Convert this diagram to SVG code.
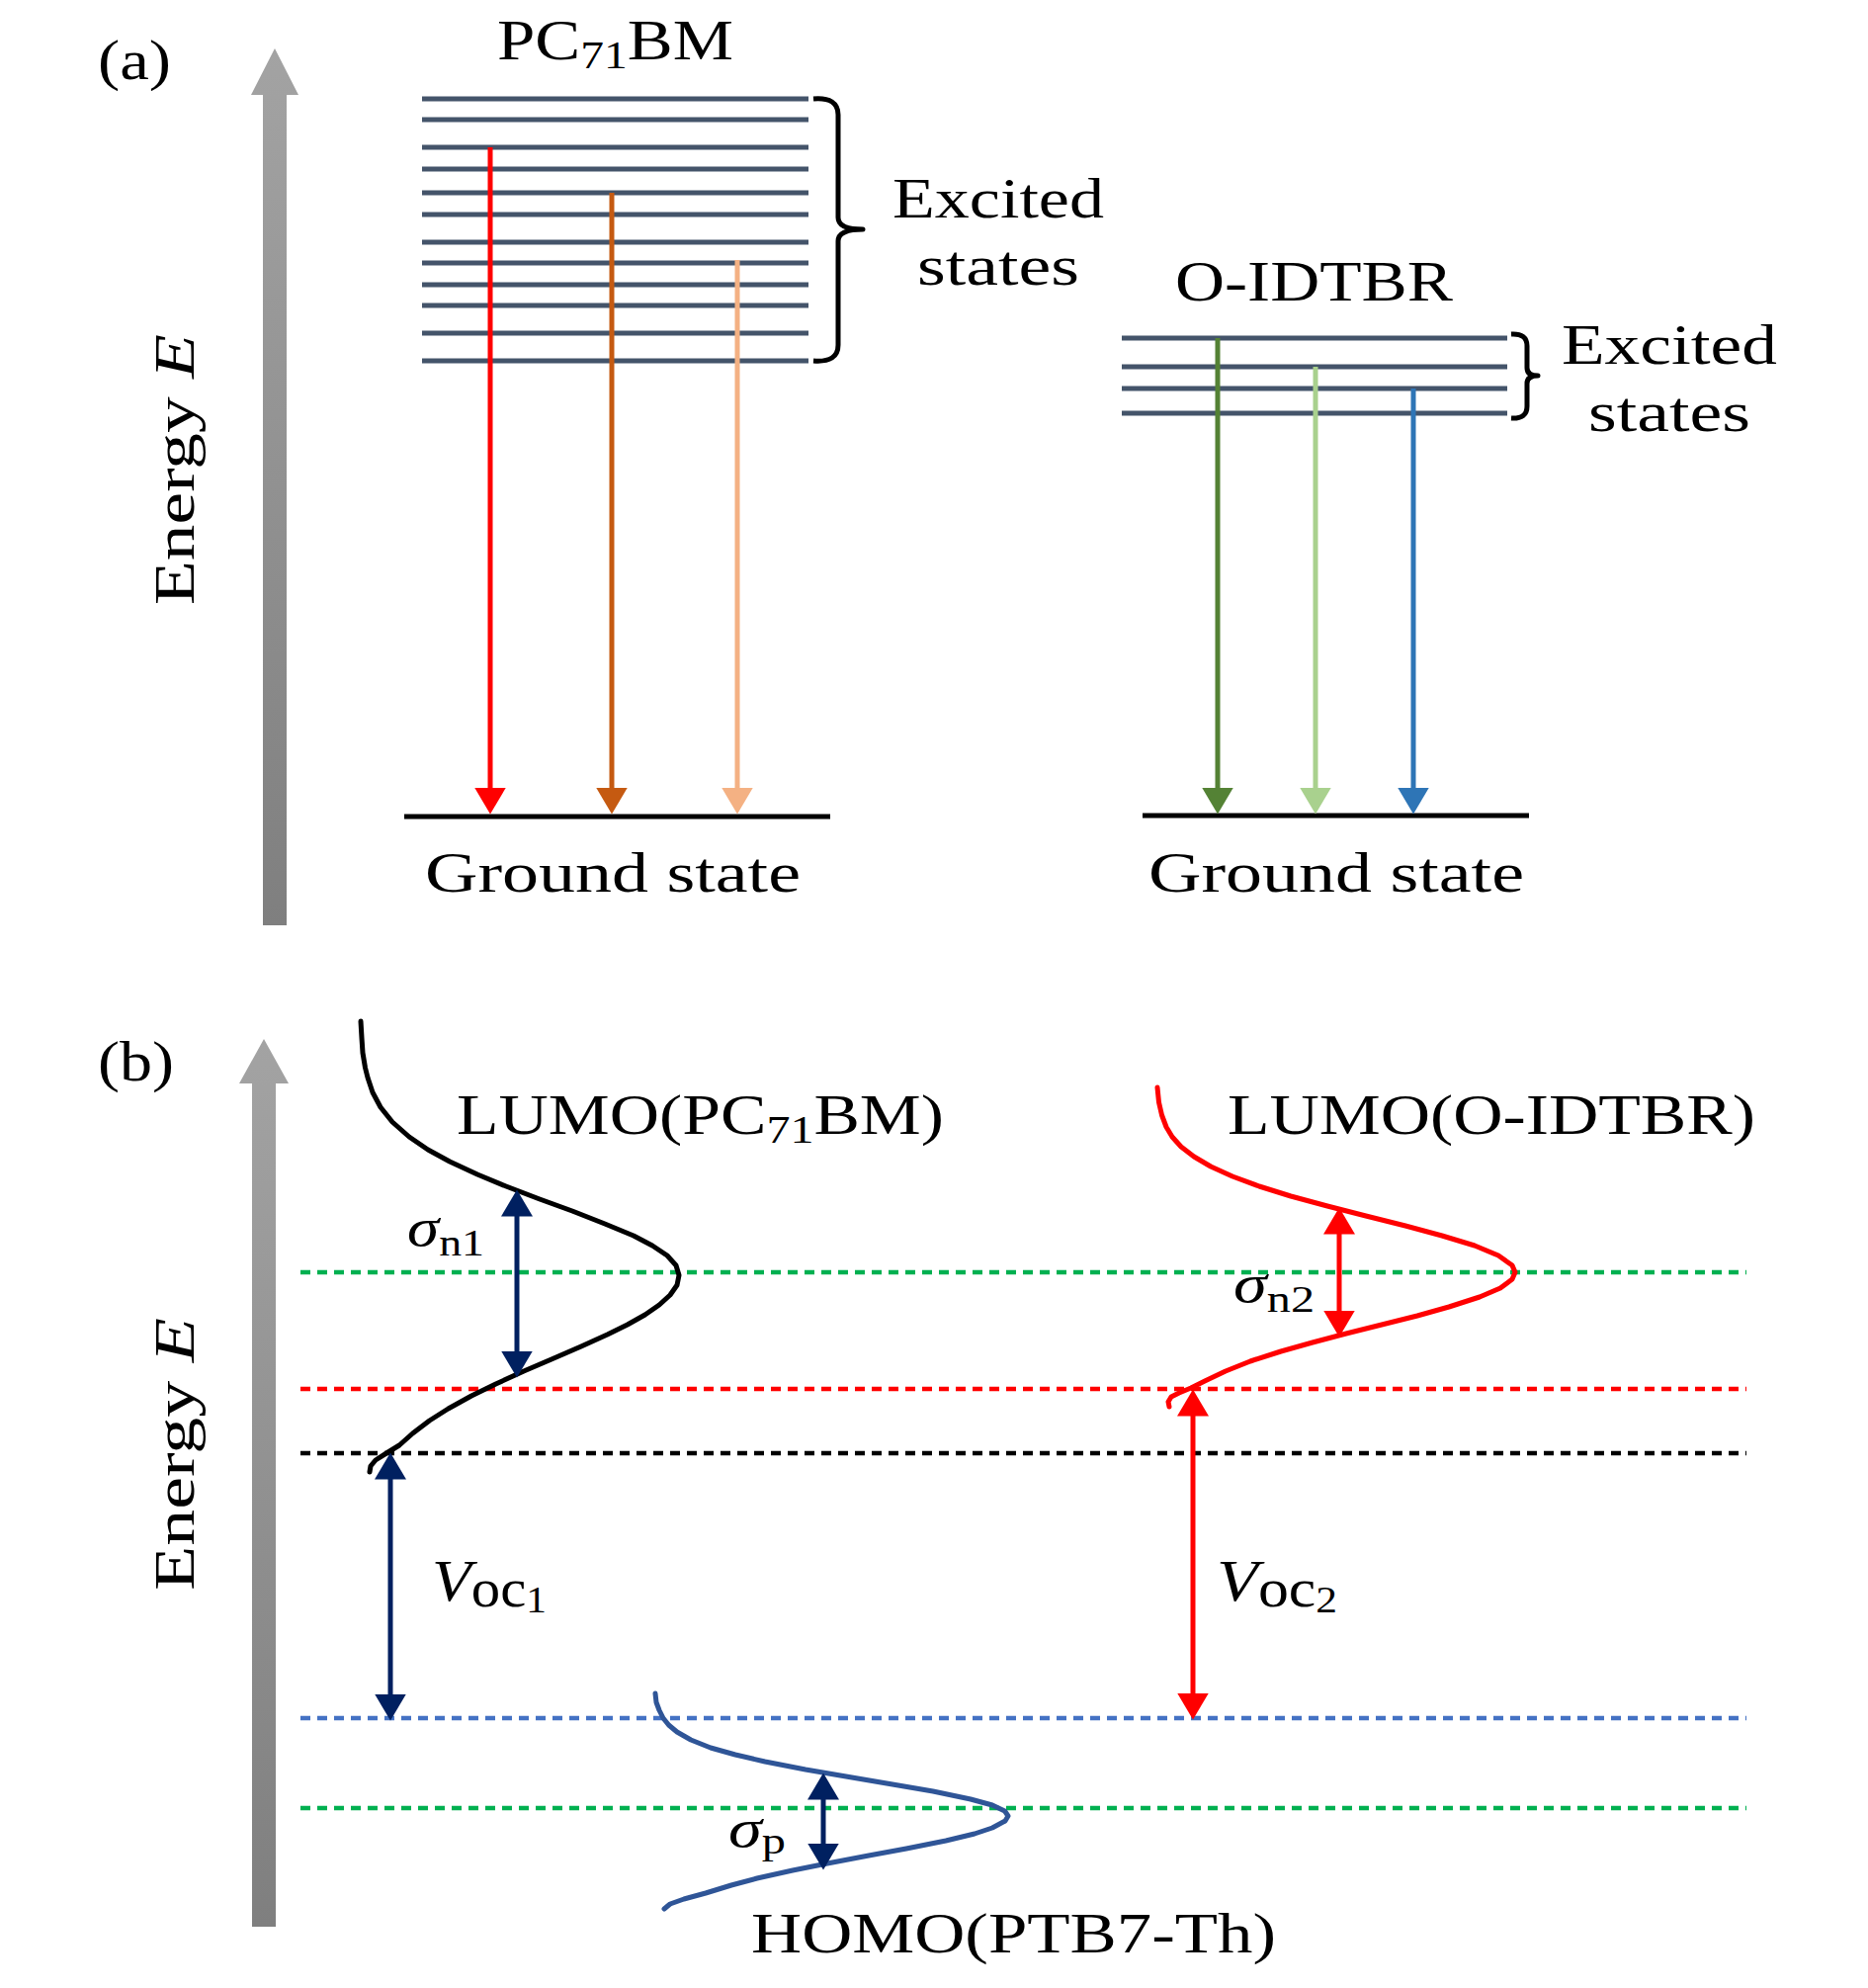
<svg xmlns="http://www.w3.org/2000/svg" width="1890" height="2011" viewBox="0 0 1890 2011">
<style>
  text { font-family: "Liberation Serif", "Times New Roman", serif; fill: #000; }
  .lbl { font-size: 58px; }
  .it { font-style: italic; }
  .lvl { stroke: #44546a; stroke-width: 5; fill: none; }
  .gnd { stroke: #000; stroke-width: 5; fill: none; }
  .brace { stroke: #000; stroke-width: 5; fill: none; stroke-linejoin: round; }
  .dash { stroke-width: 4.5; stroke-dasharray: 10 7; fill: none; }
  .curve { fill: none; stroke-width: 5; stroke-linejoin: round; stroke-linecap: round; }
  .arr { fill: none; stroke-width: 5; }
</style>
<defs>
  <linearGradient id="gray" x1="0" y1="0" x2="0" y2="1">
    <stop offset="0" stop-color="#a3a3a3"/>
    <stop offset="1" stop-color="#7f7f7f"/>
  </linearGradient>
  <marker id="hRed" viewBox="0 0 27 32" refX="0.5" refY="16" markerWidth="27" markerHeight="32" markerUnits="userSpaceOnUse" orient="auto-start-reverse"><path d="M0,0 L27,16 L0,32 Z" fill="#ff0000"/></marker>
  <marker id="hOrange" viewBox="0 0 27 32" refX="0.5" refY="16" markerWidth="27" markerHeight="32" markerUnits="userSpaceOnUse" orient="auto-start-reverse"><path d="M0,0 L27,16 L0,32 Z" fill="#c55a11"/></marker>
  <marker id="hPeach" viewBox="0 0 27 32" refX="0.5" refY="16" markerWidth="27" markerHeight="32" markerUnits="userSpaceOnUse" orient="auto-start-reverse"><path d="M0,0 L27,16 L0,32 Z" fill="#f4b183"/></marker>
  <marker id="hDkGreen" viewBox="0 0 27 32" refX="0.5" refY="16" markerWidth="27" markerHeight="32" markerUnits="userSpaceOnUse" orient="auto-start-reverse"><path d="M0,0 L27,16 L0,32 Z" fill="#548235"/></marker>
  <marker id="hLtGreen" viewBox="0 0 27 32" refX="0.5" refY="16" markerWidth="27" markerHeight="32" markerUnits="userSpaceOnUse" orient="auto-start-reverse"><path d="M0,0 L27,16 L0,32 Z" fill="#a9d18e"/></marker>
  <marker id="hBlue" viewBox="0 0 27 32" refX="0.5" refY="16" markerWidth="27" markerHeight="32" markerUnits="userSpaceOnUse" orient="auto-start-reverse"><path d="M0,0 L27,16 L0,32 Z" fill="#2e75b6"/></marker>
  <marker id="hNavy" viewBox="0 0 27 32" refX="0.5" refY="16" markerWidth="27" markerHeight="32" markerUnits="userSpaceOnUse" orient="auto-start-reverse"><path d="M0,0 L27,16 L0,32 Z" fill="#002060"/></marker>
</defs>

<g id="panel-a">
  <text id="label-a" class="lbl" x="99" y="80" textLength="74" lengthAdjust="spacingAndGlyphs">(a)</text>
  <path id="energy-axis-a" d="M266,96 L266,936 L290,936 L290,96 L302,96 L278,49 L254,96 Z" fill="url(#gray)"/>
  <text id="energy-label-a" class="lbl" transform="translate(196,612) rotate(-90)" textLength="274" lengthAdjust="spacingAndGlyphs">Energy <tspan class="it">E</tspan></text>

  <g id="pc71bm">
    <text class="lbl" x="503" y="60" textLength="239" lengthAdjust="spacingAndGlyphs">PC<tspan font-size="40" dy="9">71</tspan><tspan dy="-9">BM</tspan></text>
    <g id="pc71bm-levels">
      <line class="lvl" x1="427" y1="100" x2="818" y2="100"/>
      <line class="lvl" x1="427" y1="121" x2="818" y2="121"/>
      <line class="lvl" x1="427" y1="149" x2="818" y2="149"/>
      <line class="lvl" x1="427" y1="171" x2="818" y2="171"/>
      <line class="lvl" x1="427" y1="195" x2="818" y2="195"/>
      <line class="lvl" x1="427" y1="217" x2="818" y2="217"/>
      <line class="lvl" x1="427" y1="245" x2="818" y2="245"/>
      <line class="lvl" x1="427" y1="266" x2="818" y2="266"/>
      <line class="lvl" x1="427" y1="288" x2="818" y2="288"/>
      <line class="lvl" x1="427" y1="309" x2="818" y2="309"/>
      <line class="lvl" x1="427" y1="337" x2="818" y2="337"/>
      <line class="lvl" x1="427" y1="365" x2="818" y2="365"/>
    </g>
    <path id="pc71bm-brace" class="brace" d="M823,100 Q848,98 848,116 L848,220 Q848,232 873,232 Q848,232 848,244 L848,349 Q848,367 823,365"/>
    <text class="lbl" x="903" y="220" textLength="214" lengthAdjust="spacingAndGlyphs">Excited</text>
    <text class="lbl" x="928" y="288" textLength="164" lengthAdjust="spacingAndGlyphs">states</text>
    <line id="pc71bm-ground" class="gnd" x1="409" y1="826" x2="840" y2="826"/>
    <text class="lbl" x="430" y="902" textLength="380" lengthAdjust="spacingAndGlyphs">Ground state</text>
  </g>

  <g id="oidtbr">
    <text class="lbl" x="1189" y="304" textLength="281" lengthAdjust="spacingAndGlyphs">O-IDTBR</text>
    <g id="oidtbr-levels">
      <line class="lvl" x1="1135" y1="342" x2="1525" y2="342"/>
      <line class="lvl" x1="1135" y1="371" x2="1525" y2="371"/>
      <line class="lvl" x1="1135" y1="393" x2="1525" y2="393"/>
      <line class="lvl" x1="1135" y1="418" x2="1525" y2="418"/>
    </g>
    <path id="oidtbr-brace" class="brace" d="M1529,338 Q1545,337 1545,350 L1545,372 Q1545,380 1556,380 Q1545,380 1545,388 L1545,411 Q1545,424 1529,423"/>
    <text class="lbl" x="1580" y="368" textLength="218" lengthAdjust="spacingAndGlyphs">Excited</text>
    <text class="lbl" x="1607" y="436" textLength="164" lengthAdjust="spacingAndGlyphs">states</text>
    <line id="oidtbr-ground" class="gnd" x1="1156" y1="825" x2="1547" y2="825"/>
    <text class="lbl" x="1162" y="902" textLength="380" lengthAdjust="spacingAndGlyphs">Ground state</text>
  </g>
</g>

<g id="connectors-a">
  <line class="arr" x1="496" y1="149" x2="496" y2="797" stroke="#ff0000" marker-end="url(#hRed)"/>
  <line class="arr" x1="619" y1="195" x2="619" y2="797" stroke="#c55a11" stroke-width="4.5" marker-end="url(#hOrange)"/>
  <line class="arr" x1="746" y1="263" x2="746" y2="797" stroke="#f4b183" stroke-width="4.5" marker-end="url(#hPeach)"/>
  <line class="arr" x1="1232" y1="342" x2="1232" y2="797" stroke="#548235" stroke-width="4.5" marker-end="url(#hDkGreen)"/>
  <line class="arr" x1="1331" y1="371" x2="1331" y2="797" stroke="#a9d18e" stroke-width="4.5" marker-end="url(#hLtGreen)"/>
  <line class="arr" x1="1430" y1="393" x2="1430" y2="797" stroke="#2e75b6" stroke-width="4.5" marker-end="url(#hBlue)"/>
</g>

<g id="panel-b">
  <text id="label-b" class="lbl" x="99" y="1093" textLength="77" lengthAdjust="spacingAndGlyphs">(b)</text>
  <path id="energy-axis-b" d="M255,1096 L255,1949 L279,1949 L279,1096 L292,1096 L267,1051 L242,1096 Z" fill="url(#gray)"/>
  <text id="energy-label-b" class="lbl" transform="translate(196,1609) rotate(-90)" textLength="276" lengthAdjust="spacingAndGlyphs">Energy <tspan class="it">E</tspan></text>

  <g id="levels-b">
    <line class="dash" x1="304" y1="1287" x2="1767" y2="1287" stroke="#00b050"/>
    <line class="dash" x1="304" y1="1405" x2="1767" y2="1405" stroke="#ff0000"/>
    <line class="dash" x1="304" y1="1470" x2="1767" y2="1470" stroke="#000000"/>
    <line class="dash" x1="304" y1="1738" x2="1767" y2="1738" stroke="#4472c4"/>
    <line class="dash" x1="304" y1="1829" x2="1767" y2="1829" stroke="#00b050"/>
  </g>

  <g id="lumo-pc71bm">
    <path class="curve" stroke="#000" d="M365,1033 L366,1050 L367,1065 L369.5,1080 L372,1090 L377,1105 L385,1120 L397,1135 L414,1150 L433,1163 L455,1175 L483,1188 L512,1200 L546,1213 L579,1225 L612,1238 L641,1250 L660,1260 L675,1270 L684,1280 L687,1290 L685,1300 L678,1310 L667,1320 L652.6,1330 L634.8,1340 L614.5,1350 L588,1362 L558,1375 L530,1387 L501.6,1400 L477,1412 L453.5,1425 L434.6,1437 L417.5,1450 L404,1462 L391,1470 L380,1477 L375,1483 L374,1489"/>
    <text class="lbl" x="462" y="1147" textLength="493" lengthAdjust="spacingAndGlyphs">LUMO(PC<tspan font-size="40" dy="9">71</tspan><tspan dy="-9">BM)</tspan></text>
  </g>

  <g id="lumo-oidtbr">
    <path class="curve" stroke="#ff0000" d="M1171,1100 L1172.5,1115 L1175.5,1128 L1180,1140 L1186,1150 L1195,1160 L1208,1170 L1225,1180 L1247,1190 L1274,1200 L1306,1210 L1343,1220 L1382,1230 L1422,1240 L1459,1250 L1492,1260 L1516,1270 L1530,1280 L1533,1287 L1530,1294 L1518,1303 L1497,1312 L1466,1322 L1434,1331 L1398,1340 L1362,1349 L1328,1358 L1296,1367 L1265,1377 L1240,1387 L1219,1397 L1205,1404 L1193,1409 L1185,1413 L1182,1418 L1183,1423"/>
    <text class="lbl" x="1242" y="1147" textLength="534" lengthAdjust="spacingAndGlyphs">LUMO(O-IDTBR)</text>
  </g>

  <g id="homo-ptb7th">
    <path class="curve" stroke="#2f5597" stroke-width="4.5" d="M663,1713 L664,1722 L667,1730 L671,1738 L676.6,1745 L685,1752 L699,1760 L719,1768 L744,1775 L774,1782 L815,1790 L856,1797 L903,1805 L944,1812 L982,1820 L1004,1826 L1016.6,1832 L1020,1837 L1017,1842 L1004,1849 L986,1855 L957,1862 L917,1870 L879,1877 L837,1885 L802,1892 L766,1900 L740,1907 L714,1915 L692,1921 L678,1926 L672,1931"/>
    <text class="lbl" x="760" y="1975" textLength="531" lengthAdjust="spacingAndGlyphs">HOMO(PTB7-Th)</text>
  </g>

  <text id="sigma-n1" x="412" y="1260" textLength="78" lengthAdjust="spacingAndGlyphs"><tspan class="it" font-size="54">σ</tspan><tspan font-size="38" dy="10">n1</tspan></text>
  <text id="sigma-n2" x="1248" y="1317" textLength="82" lengthAdjust="spacingAndGlyphs"><tspan class="it" font-size="54">σ</tspan><tspan font-size="38" dy="10">n2</tspan></text>
  <text id="sigma-p" x="737" y="1868" textLength="58" lengthAdjust="spacingAndGlyphs"><tspan class="it" font-size="54">σ</tspan><tspan font-size="38" dy="7">p</tspan></text>
  <text id="voc1" x="437" y="1619" textLength="116" lengthAdjust="spacingAndGlyphs"><tspan class="it" font-size="60">V</tspan><tspan font-size="54" dy="6">oc</tspan><tspan font-size="38" dy="6">1</tspan></text>
  <text id="voc2" x="1231" y="1619" textLength="122" lengthAdjust="spacingAndGlyphs"><tspan class="it" font-size="60">V</tspan><tspan font-size="54" dy="6">oc</tspan><tspan font-size="38" dy="6">2</tspan></text>
</g>

<g id="connectors-b">
  <line class="arr" x1="523" y1="1230" x2="523" y2="1367" stroke="#002060" marker-start="url(#hNavy)" marker-end="url(#hNavy)"/>
  <line class="arr" x1="395" y1="1496" x2="395" y2="1714" stroke="#002060" marker-start="url(#hNavy)" marker-end="url(#hNavy)"/>
  <line class="arr" x1="833" y1="1820" x2="833" y2="1865" stroke="#002060" marker-start="url(#hNavy)" marker-end="url(#hNavy)"/>
  <line class="arr" x1="1355" y1="1248" x2="1355" y2="1326" stroke="#ff0000" marker-start="url(#hRed)" marker-end="url(#hRed)"/>
  <line class="arr" x1="1207" y1="1432" x2="1207" y2="1713" stroke="#ff0000" marker-start="url(#hRed)" marker-end="url(#hRed)"/>
</g>
</svg>
